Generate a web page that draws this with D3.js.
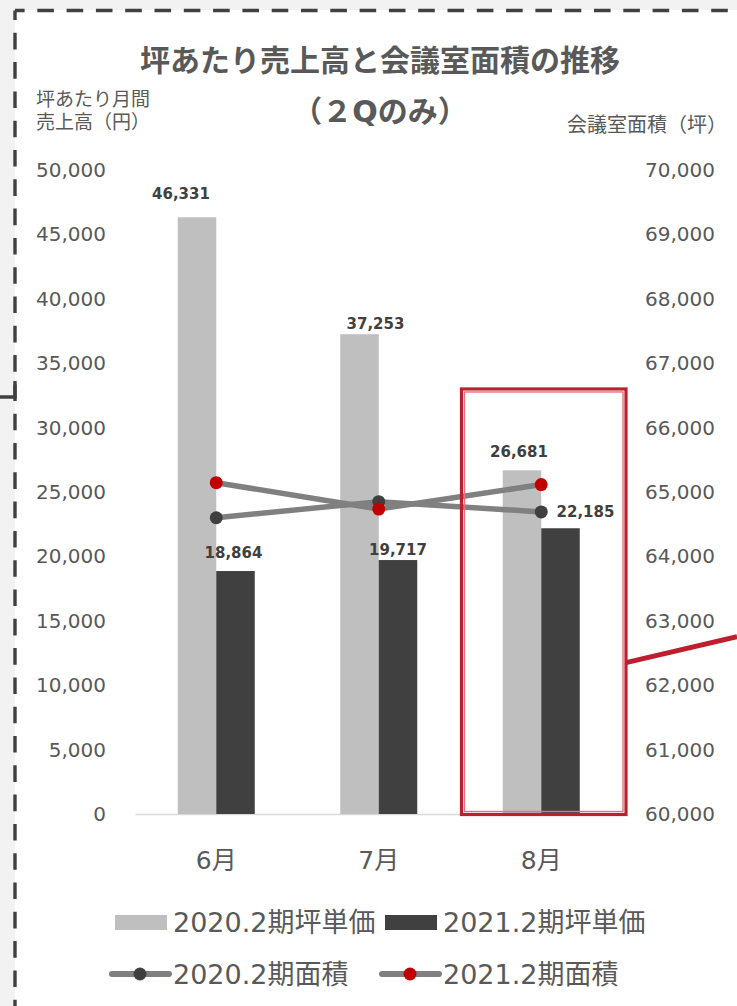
<!DOCTYPE html>
<html>
<head>
<meta charset="utf-8">
<script src="https://cdn.jsdelivr.net/npm/d3@7"></script>
<style>
  body { margin: 0; background: #fff; }
  svg { display: block; }
  text { font-family: "DejaVu Sans", "Noto Sans CJK JP", sans-serif; }
</style>
</head>
<body>
<svg id="chart" width="737" height="1006"></svg>
<script>
// chart data
var months = ["6月", "7月", "8月"];
var price2020 = [46331, 37253, 26681];
var price2021 = [18864, 19717, 22185];
var area2020 = [64600, 64850, 64690];
var area2021 = [65145, 64735, 65115];
var leftTicks = [0, 5000, 10000, 15000, 20000, 25000, 30000, 35000, 40000, 45000, 50000];
var rightTicks = [60000, 61000, 62000, 63000, 64000, 65000, 66000, 67000, 68000, 69000, 70000];
var seriesNames = ["2020.2期坪単価", "2021.2期坪単価", "2020.2期面積", "2021.2期面積"];

// hand placed label nudges (dx, dy from bar top)
var nudgeLight = [[-16, -24], [16, -11], [-3, -19]];
var nudgeDark = [[-2, -18], [0, -10], [25, -17]];

var textGray = "#595959";
var svg = d3.select("#chart");

// page background + dashed frame
svg.append("rect").attr("width", 737).attr("height", 1006).attr("fill", "#f2f2f2");
svg.append("rect").attr("x", 15).attr("y", 10).attr("width", 722).attr("height", 996).attr("fill", "#fff");
svg.append("path").attr("d", "M15,10.5 H737").attr("stroke", "#404040").attr("stroke-width", 3.4)
   .attr("stroke-dasharray", "16.6 12.7").attr("stroke-dashoffset", 7).attr("fill", "none");
svg.append("path").attr("d", "M15,10.5 V1006").attr("stroke", "#404040").attr("stroke-width", 3.4)
   .attr("stroke-dasharray", "16.6 12.7").attr("stroke-dashoffset", 7).attr("fill", "none");
svg.append("path").attr("d", "M0,397 H15 V381").attr("stroke", "#404040").attr("stroke-width", 3.4).attr("fill", "none");

var plot = {left: 135, right: 622.5, top: 170, bottom: 814};

var x = d3.scaleBand().domain(months).range([plot.left, plot.right])
          .paddingInner(0.526).paddingOuter(0.263);
var x1 = d3.scaleBand().domain([0, 1]).range([0, x.bandwidth()]);
var yL = d3.scaleLinear().domain([0, 50000]).range([plot.bottom, plot.top]);
var yR = d3.scaleLinear().domain([60000, 70000]).range([plot.bottom, plot.top]);
var fmt = d3.format(",");

// titles
svg.append("text").attr("x", 380).attr("y", 71).attr("text-anchor", "middle")
   .attr("font-size", 30).attr("font-weight", "bold").attr("fill", textGray)
   .text("坪あたり売上高と会議室面積の推移");
svg.append("text").attr("x", 380).attr("y", 122).attr("text-anchor", "middle")
   .attr("font-size", 30).attr("font-weight", "bold").attr("fill", textGray)
   .text("（２Qのみ）");
svg.append("text").attr("x", 36).attr("y", 106).attr("font-size", 19).attr("fill", textGray).text("坪あたり月間");
svg.append("text").attr("x", 36).attr("y", 129).attr("font-size", 19).attr("fill", textGray).text("売上高（円）");
svg.append("text").attr("x", 727).attr("y", 132).attr("text-anchor", "end")
   .attr("font-size", 20).attr("fill", textGray).text("会議室面積（坪）");

// axes
var axL = svg.append("g").attr("transform", "translate(" + plot.left + ",0)")
  .call(d3.axisLeft(yL).tickValues(leftTicks).tickFormat(fmt).tickSize(0).tickPadding(29));
var axR = svg.append("g").attr("transform", "translate(" + plot.right + ",0)")
  .call(d3.axisRight(yR).tickValues(rightTicks).tickFormat(fmt).tickSize(0).tickPadding(22.5));
var axB = svg.append("g").attr("transform", "translate(0," + plot.bottom + ")")
  .call(d3.axisBottom(x).tickSize(0).tickSizeOuter(0).tickPadding(37));

[axL, axR].forEach(function(a) { a.select(".domain").remove(); });
axB.select(".domain").attr("stroke", "#d9d9d9").attr("stroke-width", 1.5);
[axL, axR].forEach(function(a) {
  a.selectAll("text").attr("font-size", 20).attr("fill", textGray).attr("font-family", null);
});
axB.selectAll("text").attr("font-size", 25).attr("fill", textGray).attr("font-family", null);

// bars
var bars = svg.append("g");
bars.selectAll(".b20").data(price2020).enter().append("rect")
  .attr("x", function(d, i) { return x(months[i]) + x1(0); })
  .attr("y", function(d) { return yL(d); })
  .attr("width", x1.bandwidth())
  .attr("height", function(d) { return yL(0) - yL(d); })
  .attr("fill", "#bfbfbf");
bars.selectAll(".b21").data(price2021).enter().append("rect")
  .attr("x", function(d, i) { return x(months[i]) + x1(1); })
  .attr("y", function(d) { return yL(d); })
  .attr("width", x1.bandwidth())
  .attr("height", function(d) { return yL(0) - yL(d); })
  .attr("fill", "#404040");

// lines on right axis
var cx = function(i) { return x(months[i]) + x.bandwidth() / 2; };
var line = d3.line().x(function(d, i) { return cx(i); }).y(function(d) { return yR(d); });

[[area2020, "#404040"], [area2021, "#c00000"]].forEach(function(s) {
  svg.append("path").datum(s[0]).attr("d", line)
     .attr("fill", "none").attr("stroke", "#808080").attr("stroke-width", 5.5).attr("stroke-linecap", "round");
});
[[area2020, "#404040"], [area2021, "#c00000"]].forEach(function(s) {
  svg.append("g").selectAll("circle").data(s[0]).enter().append("circle")
     .attr("cx", function(d, i) { return cx(i); })
     .attr("cy", function(d) { return yR(d); })
     .attr("r", 6.5).attr("fill", s[1]);
});

// data labels
var labels = svg.append("g").attr("font-size", 15).attr("font-weight", "bold").attr("fill", "#404040").attr("text-anchor", "middle");
labels.selectAll(".l20").data(price2020).enter().append("text")
  .attr("x", function(d, i) { return x(months[i]) + x1(0) + x1.bandwidth() / 2 + nudgeLight[i][0]; })
  .attr("y", function(d, i) { return yL(d) + nudgeLight[i][1]; })
  .attr("dy", "0.36em").text(fmt);
labels.selectAll(".l21").data(price2021).enter().append("text")
  .attr("x", function(d, i) { return x(months[i]) + x1(1) + x1.bandwidth() / 2 + nudgeDark[i][0]; })
  .attr("y", function(d, i) { return yL(d) + nudgeDark[i][1]; })
  .attr("dy", "0.36em").text(fmt);

// highlight box around 8月
var hc = cx(2), hw = x.step() / 2;
var bx0 = hc - hw + 1.5, bx1 = hc + hw + 3.5, by0 = yL(33000), by1 = yL(0) + 0.5;
svg.append("rect").attr("x", bx0).attr("y", by0).attr("width", bx1 - bx0).attr("height", by1 - by0)
   .attr("fill", "none").attr("stroke", "#be1e2d").attr("stroke-width", 3.2);
svg.append("rect").attr("x", bx0 + 3).attr("y", by0 + 3).attr("width", bx1 - bx0 - 6).attr("height", by1 - by0 - 6)
   .attr("fill", "none").attr("stroke", "#e0737b").attr("stroke-width", 1.4);
svg.append("line").attr("x1", bx1).attr("y1", yR(62350)).attr("x2", 737).attr("y2", yR(62755))
   .attr("stroke", "#be1e2d").attr("stroke-width", 5);

// legend
var leg = svg.append("g").attr("font-size", 27).attr("fill", textGray);
var legCols = [115, 385];
[["#bfbfbf", 0], ["#404040", 1]].forEach(function(s, i) {
  leg.append("rect").attr("x", legCols[i]).attr("y", 915).attr("width", 52).attr("height", 15).attr("fill", s[0]);
  leg.append("text").attr("x", legCols[i] + 58).attr("y", 922).attr("dy", "0.36em").text(seriesNames[s[1]]);
});
[["#404040", 2], ["#c00000", 3]].forEach(function(s, i) {
  var lx = legCols[i] - 3;
  leg.append("line").attr("x1", lx).attr("x2", lx + 57).attr("y1", 974).attr("y2", 974)
     .attr("stroke", "#808080").attr("stroke-width", 6).attr("stroke-linecap", "round");
  leg.append("circle").attr("cx", lx + 28).attr("cy", 974).attr("r", 6.5).attr("fill", s[0]);
  leg.append("text").attr("x", legCols[i] + 58).attr("y", 974).attr("dy", "0.36em").text(seriesNames[s[1]]);
});
</script>
</body>
</html>
